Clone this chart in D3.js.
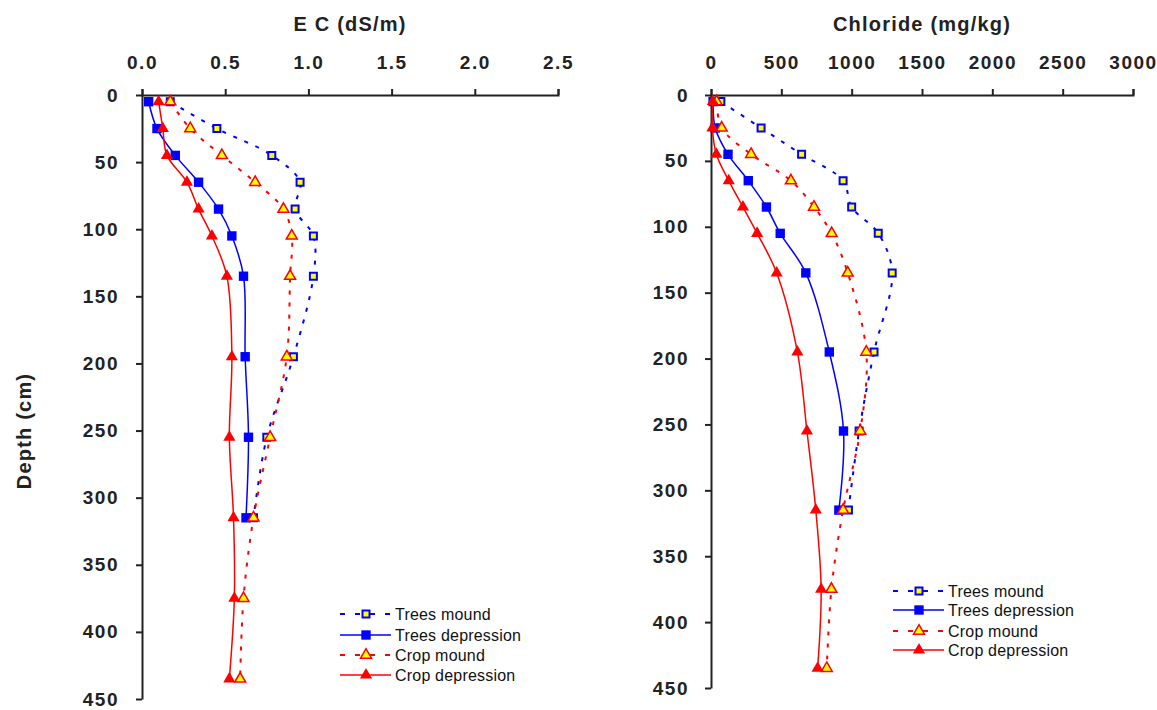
<!DOCTYPE html>
<html lang="en">
<head>
    <meta charset="UTF-8">
    <title>EC and Chloride depth profiles</title>
    <script src="https://d3js.org/d3.v7.min.js"></script>
    <style>
        body {
            margin: 0;
            background: #fff;
            font-family: Arial, "Liberation Sans", sans-serif;
        }
        .axis path, .axis line {
            stroke: #222;
            stroke-width: 2px;
        }
        .axis text {
            font-size: 19px;
            font-weight: bold;
            letter-spacing: 1.5px;
            fill: #222;
        }
        .title {
            font-size: 20px;
            font-weight: bold;
            letter-spacing: 1.2px;
            fill: #222;
        }
        .legend text {
            font-size: 16px;
            letter-spacing: 0.2px;
            fill: #111;
        }
    </style>
</head>
<body>
<script>
    const width = 1157, height = 710;

    // depths (cm) at which samples were taken
    const depths = [5, 25, 45, 65, 85, 105, 135, 195, 255, 315, 375, 435];
    const depthTicks = [0, 50, 100, 150, 200, 250, 300, 350, 400, 450];

    const seriesNames = ["Trees mound", "Trees depression", "Crop mound", "Crop depression"];

    // EC (dS/m)
    const ecTicks = [0, 0.5, 1.0, 1.5, 2.0, 2.5];
    const ecTreesMound = [0.17, 0.45, 0.78, 0.95, 0.92, 1.03, 1.03, 0.91, 0.75, 0.67];
    const ecTreesDepression = [0.04, 0.09, 0.20, 0.34, 0.46, 0.54, 0.61, 0.62, 0.64, 0.625];
    const ecCropMound = [0.17, 0.29, 0.48, 0.68, 0.85, 0.90, 0.89, 0.87, 0.77, 0.67, 0.61, 0.59];
    const ecCropDepression = [0.10, 0.125, 0.15, 0.27, 0.34, 0.42, 0.51, 0.54, 0.525, 0.55, 0.555, 0.525];

    // Chloride (mg/kg)
    const clTicks = [0, 500, 1000, 1500, 2000, 2500, 3000];
    const clTreesMound = [70, 356, 644, 939, 1000, 1189, 1288, 1159, 1053, 977];
    const clTreesDepression = [15, 30, 121, 265, 394, 492, 674, 841, 942, 909];
    const clCropMound = [40, 76, 285, 568, 732, 858, 972, 1104, 1061, 939, 856, 823];
    const clCropDepression = [13, 10, 38, 126, 227, 328, 467, 614, 682, 745, 783, 758];

    const styles = [
        { color: "#0000ff", dash: "4,8", width: 2, shape: d3.symbolSquare, size: 49, fill: "#ffff00", sw: 2 },
        { color: "#0000ff", dash: null, width: 1.5, shape: d3.symbolSquare, size: 88, fill: "#0000ff", sw: 0 },
        { color: "#ff0000", dash: "4,8", width: 2, shape: d3.symbolTriangle, size: 52, fill: "#ffff00", sw: 1.5 },
        { color: "#ff0000", dash: null, width: 1.5, shape: d3.symbolTriangle, size: 64, fill: "#ff0000", sw: 0 }
    ];

    const svg = d3.select("body").append("svg")
        .attr("width", width)
        .attr("height", height);

    function drawPanel(p) {
        const x = d3.scaleLinear().domain(p.xDomain).range(p.xRange);
        const y = d3.scaleLinear().domain([0, 450]).range(p.yRange);
        const g = svg.append("g");

        g.append("g")
            .attr("class", "axis")
            .attr("transform", `translate(0,${p.yRange[0]})`)
            .call(d3.axisTop(x).tickValues(p.xTicks).tickFormat(p.fmt)
                .tickSize(6).tickSizeOuter(6).tickPadding(20));

        g.append("g")
            .attr("class", "axis")
            .attr("transform", `translate(${p.xRange[0]},0)`)
            .call(d3.axisLeft(y).tickValues(depthTicks)
                .tickSize(6).tickSizeOuter(0).tickPadding(p.yPad));

        g.append("text")
            .attr("class", "title")
            .attr("x", (p.xRange[0] + p.xRange[1]) / 2)
            .attr("y", 31)
            .attr("text-anchor", "middle")
            .text(p.title);

        const line = d3.line()
            .x(d => x(d.v))
            .y(d => y(d.d))
            .curve(d3.curveCatmullRom.alpha(0.5));

        p.series.forEach((vals, i) => {
            const s = styles[i];
            const pts = vals.map((v, k) => ({ v, d: depths[k] }));
            g.append("path")
                .datum(pts)
                .attr("d", line)
                .attr("fill", "none")
                .attr("stroke", s.color)
                .attr("stroke-width", s.width)
                .attr("stroke-dasharray", s.dash);
            g.selectAll(null)
                .data(pts)
                .enter()
                .append("path")
                .attr("d", d3.symbol(s.shape, s.size))
                .attr("transform", d => `translate(${x(d.v)},${y(d.d)})`)
                .attr("fill", s.fill)
                .attr("stroke", s.color)
                .attr("stroke-width", s.sw);
        });

        // legend
        const lg = g.append("g").attr("class", "legend");
        seriesNames.forEach((name, i) => {
            const s = styles[i];
            const row = lg.append("g")
                .attr("transform", `translate(${p.legendX},${p.legendRows[i]})`);
            row.append("line")
                .attr("x1", 0).attr("x2", 51)
                .attr("stroke", s.color)
                .attr("stroke-width", s.width)
                .attr("stroke-dasharray", s.dash ? "5,10" : null);
            row.append("path")
                .attr("d", d3.symbol(s.shape, s.size))
                .attr("transform", "translate(26,0)")
                .attr("fill", s.fill)
                .attr("stroke", s.color)
                .attr("stroke-width", s.sw);
            row.append("text")
                .attr("x", 55)
                .attr("dy", "0.36em")
                .text(name);
        });
    }

    drawPanel({
        title: "E C (dS/m)",
        xDomain: [0, 2.5], xRange: [142, 558],
        yRange: [95, 699],
        xTicks: ecTicks, fmt: d3.format(".1f"), yPad: 17,
        series: [ecTreesMound, ecTreesDepression, ecCropMound, ecCropDepression],
        legendX: 340, legendRows: [614, 635, 655, 675]
    });

    drawPanel({
        title: "Chloride (mg/kg)",
        xDomain: [0, 3000], xRange: [711, 1133],
        yRange: [95, 688],
        xTicks: clTicks, fmt: d3.format("d"), yPad: 16,
        series: [clTreesMound, clTreesDepression, clCropMound, clCropDepression],
        legendX: 893, legendRows: [591, 610, 631, 650]
    });

    svg.append("text")
        .attr("class", "title")
        .attr("transform", "translate(31,431) rotate(-90)")
        .attr("text-anchor", "middle")
        .text("Depth (cm)");
</script>
</body>
</html>
